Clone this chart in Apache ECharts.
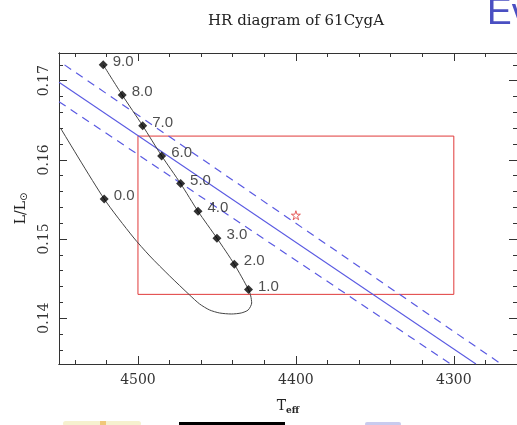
<!DOCTYPE html>
<html>
<head>
<meta charset="utf-8">
<title>HR diagram of 61CygA</title>
<script src="https://cdn.jsdelivr.net/npm/echarts@6/dist/echarts.min.js"></script>
<style>
    html, body { margin: 0; padding: 0; background: #fff; }
    .chart { width: 517px; height: 425px; }
</style>
</head>
<body>
<div class="chart"></div>
<script>
// 演化轨迹 (Teff, L/Lsun)
var trackTeff = [4549.1, 4521.4, 4503.1, 4492.5, 4479.9, 4467.3, 4461.0, 4454.7, 4448.4, 4440.9, 4434.6, 4430.2, 4428.0, 4428.6,
    4430, 4439, 4450, 4462, 4473, 4485, 4497, 4510, 4522];
var trackLum = [0.16403, 0.15506, 0.15025, 0.14785, 0.14532, 0.14292, 0.14179, 0.14103, 0.14065, 0.14052, 0.14065, 0.14103, 0.14191, 0.14280,
    0.1436, 0.1468, 0.1501, 0.1535, 0.1570, 0.1605, 0.1643, 0.1682, 0.1720];

// 年龄标记点
var ageNames = ["0.0", "1.0", "2.0", "3.0", "4.0", "5.0", "6.0", "7.0", "8.0", "9.0"];
var ageTeff = [4521.4, 4430, 4439, 4450, 4462, 4473, 4485, 4497, 4510, 4522];
var ageLum = [0.15506, 0.1436, 0.1468, 0.1501, 0.1535, 0.1570, 0.1605, 0.1643, 0.1682, 0.1720];

// 蓝色半径线 (起点, 终点)
var radiusMidTeff = [4550, 4286];
var radiusMidLum = [0.1698, 0.1342];
var radiusUpTeff = [4546.5, 4270];
var radiusUpLum = [0.1720, 0.1342];
var radiusLowTeff = [4550, 4302];
var radiusLowLum = [0.16735, 0.1342];

// 观测值与误差框
var starTeff = [4400];
var starLum = [0.153];
var boxTeff = [4500, 4300];
var boxLum = [0.143, 0.163];

// 刻度
var xMajorTicks = [4500, 4400, 4300];
var xMinorTicks = [4540, 4520, 4480, 4460, 4440, 4420, 4380, 4360, 4340, 4320, 4280];
var yMajorTicks = [0.14, 0.15, 0.16, 0.17];
var yMinorTicks = [0.136, 0.138, 0.142, 0.144, 0.146, 0.148, 0.152, 0.154, 0.156, 0.158,
    0.162, 0.164, 0.166, 0.168, 0.172];

(function () {
    var myChart = echarts.init(document.querySelector(".chart"));

    function zip(xs, ys) {
        var out = [];
        for (var i = 0; i < xs.length; i++) out.push([xs[i], ys[i]]);
        return out;
    }

    var frameColor = "#333";
    var blue = "#5a5ae2";
    var red = "#e03a3a";
    var serif = "DejaVu Serif";

    // 坐标轴: 主刻度 + 次刻度, 四边都画
    function xAxis(position, ticks, len, showLabel, name) {
        return {
            type: "value",
            position: position,
            inverse: true,
            min: 4260,
            max: 4550,
            scale: true,
            name: name || "",
            nameLocation: "middle",
            nameGap: 34,
            nameTextStyle: {
                fontFamily: serif,
                fontSize: 14,
                color: "#222",
                rich: {
                    sub: { fontSize: 9, fontFamily: serif, fontWeight: "bold", color: "#222", padding: [8, 0, 0, 0] }
                }
            },
            axisLine: { show: true, onZero: false, lineStyle: { color: frameColor, width: 1 } },
            axisTick: { show: true, inside: true, length: len, customValues: ticks, lineStyle: { color: frameColor } },
            axisLabel: {
                show: showLabel,
                customValues: ticks,
                margin: 9,
                fontFamily: serif,
                fontSize: 14,
                color: "#333",
                formatter: function (v) { return String(v); }
            },
            splitLine: { show: false }
        };
    }

    function yAxis(position, ticks, len, showLabel, name) {
        return {
            type: "value",
            position: position,
            min: 0.1342,
            max: 0.1735,
            scale: true,
            name: name || "",
            nameLocation: "middle",
            nameGap: 26,
            nameRotate: 90,
            nameTextStyle: {
                fontFamily: serif,
                fontSize: 14,
                color: "#222",
                rich: {
                    sub: { fontSize: 10, fontFamily: "DejaVu Sans", color: "#222", padding: [6, 0, 0, 0] }
                }
            },
            axisLine: { show: true, onZero: false, lineStyle: { color: frameColor, width: 1 } },
            axisTick: { show: true, inside: true, length: len, customValues: ticks, lineStyle: { color: frameColor } },
            axisLabel: {
                show: showLabel,
                customValues: ticks,
                rotate: 90,
                margin: 8,
                fontFamily: serif,
                fontSize: 14,
                color: "#333",
                formatter: function (v) { return v.toFixed(2); }
            },
            splitLine: { show: false }
        };
    }

    var boxData = [
        [boxTeff[0], boxLum[0]], [boxTeff[1], boxLum[0]],
        [boxTeff[1], boxLum[1]], [boxTeff[0], boxLum[1]], [boxTeff[0], boxLum[0]]
    ];

    var option = {
        animation: false,
        backgroundColor: "#fff",
        title: {
            text: "HR diagram of 61CygA",
            left: 203,
            top: 9,
            textStyle: { fontFamily: serif, fontSize: 15, fontWeight: "normal", color: "#222" }
        },
        grid: { left: 59, top: 53, right: -3, bottom: 61, containLabel: false },
        xAxis: [
            xAxis("bottom", xMajorTicks, 8, true, "T{sub|eff}"),
            xAxis("bottom", xMinorTicks, 4, false),
            xAxis("top", xMajorTicks, 8, false),
            xAxis("top", xMinorTicks, 4, false)
        ],
        yAxis: [
            yAxis("left", yMajorTicks, 8, true, "L/L{sub|⊙}"),
            yAxis("left", yMinorTicks, 4, false),
            yAxis("right", yMajorTicks, 8, false),
            yAxis("right", yMinorTicks, 4, false)
        ],
        series: [
            {
                name: "box",
                type: "line",
                data: boxData,
                symbol: "none",
                lineStyle: { color: red, width: 1 },
                z: 2
            },
            {
                name: "R mid",
                type: "line",
                data: zip(radiusMidTeff, radiusMidLum),
                symbol: "none",
                lineStyle: { color: blue, width: 1.1 },
                z: 3
            },
            {
                name: "R up",
                type: "line",
                data: zip(radiusUpTeff, radiusUpLum),
                symbol: "none",
                lineStyle: { color: blue, width: 1.2, type: [8, 6] },
                z: 3
            },
            {
                name: "R low",
                type: "line",
                data: zip(radiusLowTeff, radiusLowLum),
                symbol: "none",
                lineStyle: { color: blue, width: 1.2, type: [8, 6] },
                z: 3
            },
            {
                name: "track",
                type: "line",
                data: zip(trackTeff, trackLum),
                symbol: "none",
                smooth: 0.25,
                lineStyle: { color: "#444", width: 1 },
                z: 4
            },
            {
                name: "age",
                type: "scatter",
                data: ageNames.map(function (n, i) {
                    return { name: n, value: [ageTeff[i], ageLum[i]] };
                }),
                symbol: "diamond",
                symbolSize: 9,
                itemStyle: { color: "#000" },
                label: {
                    show: true,
                    position: "right",
                    distance: 5,
                    offset: [0, -3],
                    formatter: "{b}",
                    fontFamily: "Liberation Sans",
                    fontSize: 15,
                    color: "#222"
                },
                z: 5
            },
            {
                name: "61CygA",
                type: "scatter",
                data: zip(starTeff, starLum),
                symbol: "path://M50,0 L61,35 L98,35 L68,57 L79,91 L50,70 L21,91 L32,57 L2,35 L39,35 Z",
                symbolSize: 9,
                itemStyle: { color: "transparent", borderColor: red, borderWidth: 1 },
                z: 5
            }
        ],
        graphic: [
            // 幻灯片残留: 右上角标题文字
            { type: "text", left: 487, top: -5, style: { text: "Ev", fontFamily: "Liberation Sans", fontSize: 37, fill: "#4a4fc2" } },
            // 底部残留
            { type: "rect", shape: { x: 179, y: 422, width: 106, height: 4 }, style: { fill: "#000" } },
            { type: "rect", shape: { x: 63, y: 421, width: 78, height: 5, r: 3 }, style: { fill: "#f6f1cf" } },
            { type: "rect", shape: { x: 100, y: 421, width: 6, height: 5 }, style: { fill: "#f0c879" } },
            { type: "rect", shape: { x: 365, y: 422, width: 36, height: 4, r: 3 }, style: { fill: "#c9cbee" } }
        ]
    };
    myChart.setOption(option);
    window.addEventListener("resize", function () {
        myChart.resize();
    });
})();
</script>
</body>
</html>
